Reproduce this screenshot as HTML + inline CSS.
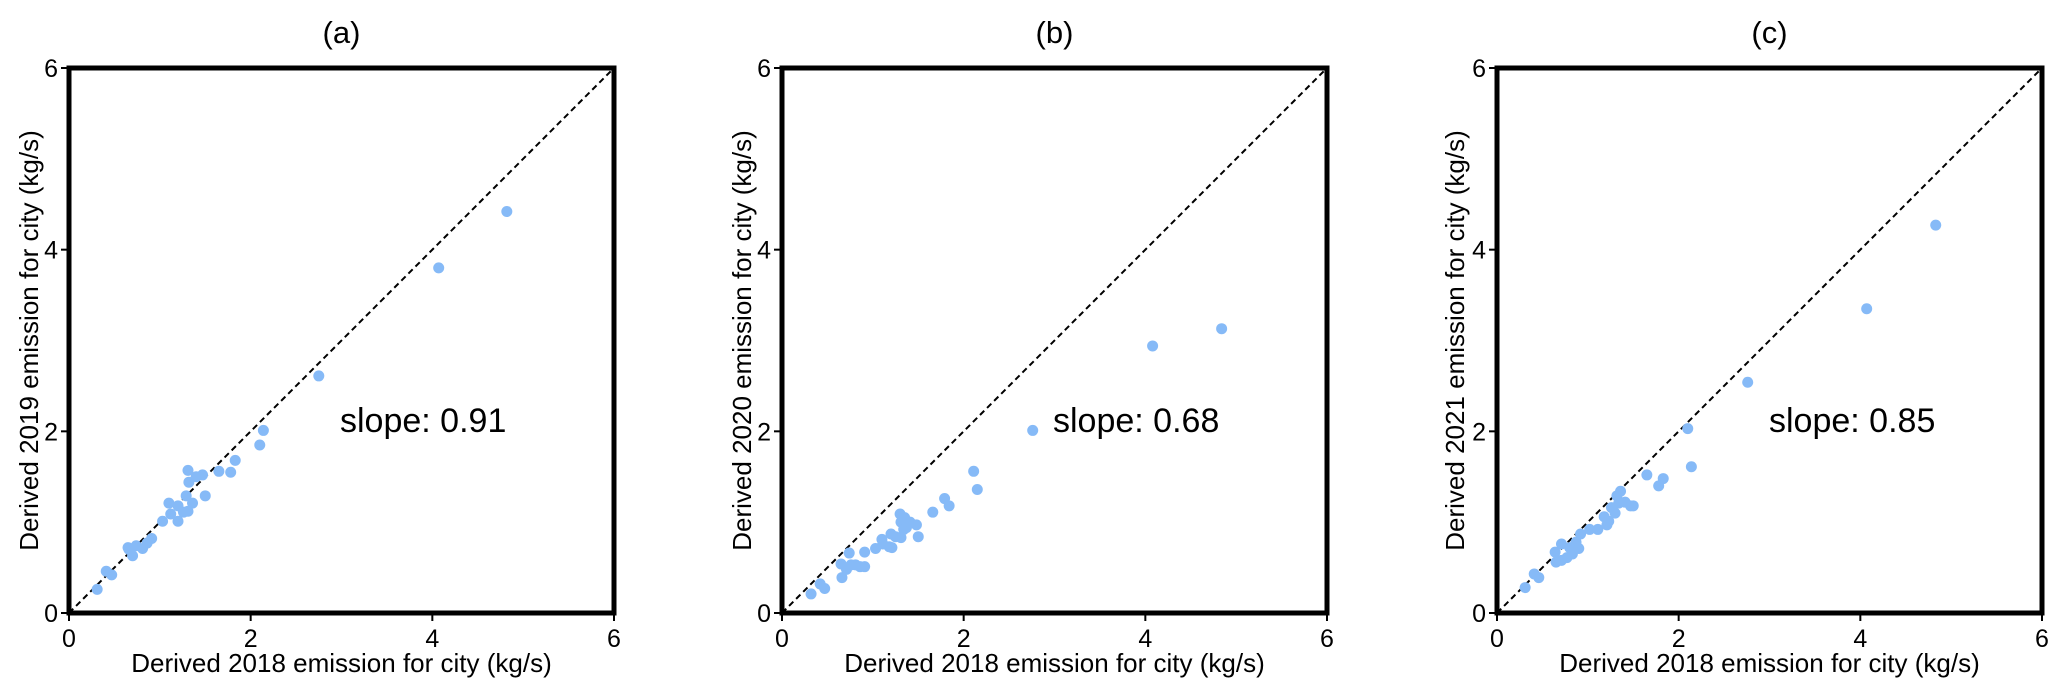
<!DOCTYPE html>
<html><head><meta charset="utf-8"><style>
html,body{margin:0;padding:0;background:#fff;}
svg{display:block;font-family:"Liberation Sans",Arial,sans-serif;}
</style></head><body>
<svg id="chart" width="2067" height="693" viewBox="0 0 2067 693"></svg>
<script>
const xA = [0.31,0.41,0.47,0.65,0.66,0.70,0.74,0.81,0.86,0.91,1.03,1.10,1.12,1.20,1.20,1.26,1.31,1.29,1.36,1.31,1.32,1.40,1.47,1.50,1.65,1.78,1.83,2.10,2.14,2.75,4.07,4.82];
const yA = [0.26,0.46,0.42,0.72,0.70,0.63,0.74,0.71,0.77,0.82,1.01,1.21,1.09,1.01,1.18,1.11,1.12,1.29,1.21,1.57,1.44,1.50,1.52,1.29,1.56,1.55,1.68,1.85,2.01,2.61,3.80,4.42];
const xB = [0.32,0.42,0.47,0.65,0.66,0.71,0.74,0.76,0.81,0.86,0.91,0.91,1.03,1.10,1.11,1.18,1.21,1.20,1.25,1.31,1.30,1.31,1.35,1.34,1.37,1.41,1.48,1.50,1.66,1.79,1.84,2.11,2.15,2.76,4.08,4.84];
const yB = [0.21,0.32,0.27,0.54,0.39,0.48,0.66,0.53,0.53,0.51,0.51,0.67,0.71,0.81,0.76,0.73,0.72,0.87,0.84,0.83,1.09,1.00,1.05,0.92,0.94,1.00,0.97,0.84,1.11,1.26,1.18,1.56,1.36,2.01,2.94,3.13];
const xC = [0.31,0.41,0.46,0.64,0.65,0.71,0.71,0.77,0.80,0.83,0.87,0.90,0.92,1.02,1.11,1.18,1.21,1.23,1.26,1.30,1.32,1.34,1.36,1.41,1.47,1.50,1.65,1.78,1.83,2.10,2.14,2.76,4.07,4.83];
const yC = [0.28,0.43,0.39,0.67,0.56,0.76,0.58,0.61,0.72,0.65,0.78,0.71,0.87,0.92,0.92,1.06,0.97,1.01,1.16,1.10,1.29,1.21,1.34,1.22,1.18,1.18,1.52,1.40,1.48,2.03,1.61,2.54,3.35,4.27];
const ticks = [0,2,4,6];
const titles = ["(a)","(b)","(c)"];
const yLabels = ["Derived 2019 emission for city (kg/s)","Derived 2020 emission for city (kg/s)","Derived 2021 emission for city (kg/s)"];
const slopes = ["slope: 0.91","slope: 0.68","slope: 0.85"];
const xsAll=[xA,xB,xC], ysAll=[yA,yB,yC];
const panels=[{x0:69,x1:614,ylab:29,slopeX:340},{x0:782,x1:1327,ylab:742,slopeX:1053},{x0:1497,x1:2042,ylab:1455,slopeX:1769}];
const Y0=613,Y1=68;
const svg=document.getElementById('chart');
const NS='http://www.w3.org/2000/svg';
function mk(tag,attrs,parent){const e=document.createElementNS(NS,tag);for(const k in attrs)e.setAttribute(k,attrs[k]);(parent||svg).appendChild(e);return e;}
panels.forEach((p,i)=>{
  const g=mk('g',{});
  
  
  const sx=v=>p.x0+(p.x1-p.x0)*v/6;
  const sy=v=>Y0-(Y0-Y1)*v/6;
  const cx=(p.x0+p.x1)/2;
  const t=mk('text',{x:cx,y:43,'font-size':31,'text-anchor':'middle',fill:'#000'},g);t.textContent=titles[i];
  
  
  const dl=mk('line',{x1:sx(0),y1:sy(0),x2:sx(6),y2:sy(6),stroke:'#000','stroke-width':2,'stroke-dasharray':'6,4'},g);
  
  
  for(let k=0;k<xsAll[i].length;k++){
    const c=mk('circle',{cx:sx(xsAll[i][k]),cy:sy(ysAll[i][k]),r:5.5,fill:'#86baf7'},g);
    
    
  }
  const fr=mk('rect',{x:p.x0,y:Y1,width:p.x1-p.x0,height:Y0-Y1,fill:'none',stroke:'#000','stroke-width':5},g);
  
  
  ticks.forEach(v=>{
    mk('line',{x1:sx(v),y1:Y0,x2:sx(v),y2:Y0+8,stroke:'#000','stroke-width':2},g);
    mk('line',{x1:p.x0-8,y1:sy(v),x2:p.x0,y2:sy(v),stroke:'#000','stroke-width':2},g);
    const xt=mk('text',{x:sx(v),y:647,'font-size':25,'text-anchor':'middle'},g);xt.textContent=v;
    
    
    const yt=mk('text',{x:p.x0-11,y:sy(v)+9,'font-size':25,'text-anchor':'end'},g);yt.textContent=v;
    
    
  });
  const xl=mk('text',{x:cx,y:672,'font-size':26,'text-anchor':'middle'},g);xl.textContent='Derived 2018 emission for city (kg/s)';
  
  
  const yl=mk('text',{x:0,y:0,'font-size':26,'text-anchor':'middle',transform:`translate(${p.ylab+9},${(Y0+Y1)/2}) rotate(-90)`},g);yl.textContent=yLabels[i];
  
  
  const st=mk('text',{x:p.slopeX,y:432,'font-size':34},g);st.textContent=slopes[i];
  
  
});
</script>
</body></html>
